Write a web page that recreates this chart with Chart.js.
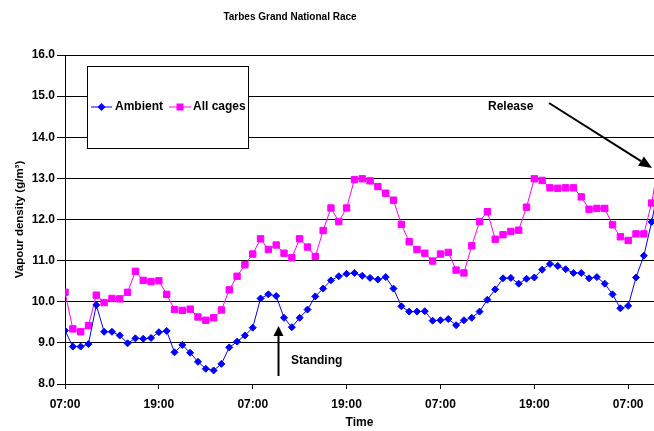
<!DOCTYPE html>
<html>
<head>
<meta charset="utf-8">
<script src="https://cdn.jsdelivr.net/npm/chart.js@4.4.1/dist/chart.umd.min.js"></script>
<style>
  html, body { margin: 0; padding: 0; background: #fff; }
  canvas { display: block; }
</style>
</head>
<body>
<canvas id="c" width="654" height="431"></canvas>
<script>
// Hourly vapour density readings (g/m3), starting 07:00
const ambient = [
  9.30, 8.91, 8.91, 8.97, 9.92, 9.27, 9.27, 9.18, 8.99, 9.11,
  9.10, 9.12, 9.26, 9.29, 8.77, 8.95, 8.76, 8.54, 8.37, 8.33,
  8.49, 8.89, 9.03, 9.18, 9.37, 10.08, 10.18, 10.14, 9.61, 9.38,
  9.61, 9.81, 10.13, 10.32, 10.52, 10.62, 10.68, 10.70, 10.63, 10.58,
  10.54, 10.60, 10.32, 9.89, 9.76, 9.76, 9.77, 9.54, 9.55, 9.58,
  9.43, 9.55, 9.61, 9.76, 10.05, 10.30, 10.57, 10.58, 10.44, 10.56,
  10.59, 10.78, 10.92, 10.87, 10.79, 10.70, 10.70, 10.57, 10.60, 10.44,
  10.18, 9.84, 9.90, 10.59, 11.12, 11.94, 12.90
];
const allCages = [
  10.23, 9.34, 9.27, 9.42, 10.16, 9.98, 10.08, 10.07, 10.23, 10.74,
  10.52, 10.49, 10.51, 10.18, 9.81, 9.79, 9.82, 9.63, 9.55, 9.61,
  9.80, 10.29, 10.62, 10.90, 11.16, 11.53, 11.27, 11.38, 11.18, 11.07,
  11.53, 11.33, 11.10, 11.73, 12.28, 11.95, 12.28, 12.97, 12.99, 12.94,
  12.80, 12.64, 12.47, 11.88, 11.46, 11.27, 11.18, 10.99, 11.16, 11.20,
  10.77, 10.70, 11.36, 11.95, 12.19, 11.52, 11.63, 11.71, 11.74, 12.30,
  12.99, 12.95, 12.77, 12.76, 12.77, 12.77, 12.55, 12.25, 12.27, 12.27,
  11.87, 11.58, 11.49, 11.65, 11.65, 12.40, 13.50
];
// Hours elapsed since the first reading
const hours = ambient.map((_, i) => i);
// Axis ticks every 12 hours
const tickHours = [0, 12, 24, 36, 48, 60, 72];
const tickLabels = ['07:00', '19:00', '07:00', '19:00', '07:00', '19:00', '07:00'];
const seriesNames = ['Ambient', 'All cages'];

const FONT = "'Liberation Sans', Arial, sans-serif";
const BLUE = '#0000ff';
const MAGENTA = '#ff00ff';

function drawArrow(ctx, x1, y1, x2, y2, headLen, headHalf) {
  const dx = x2 - x1, dy = y2 - y1;
  const len = Math.hypot(dx, dy);
  const ux = dx / len, uy = dy / len;
  const bx = x2 - ux * headLen, by = y2 - uy * headLen;
  ctx.beginPath();
  ctx.moveTo(x1, y1);
  ctx.lineTo(bx, by);
  ctx.stroke();
  ctx.beginPath();
  ctx.moveTo(x2, y2);
  ctx.lineTo(bx - uy * headHalf, by + ux * headHalf);
  ctx.lineTo(bx + uy * headHalf, by - ux * headHalf);
  ctx.closePath();
  ctx.fill();
}

const decorations = {
  id: 'decorations',
  afterDraw(chart) {
    const ctx = chart.ctx;
    const area = chart.chartArea;
    ctx.save();
    ctx.fillStyle = '#000';
    ctx.strokeStyle = '#000';

    // Title
    ctx.font = 'bold 10px ' + FONT;
    ctx.textAlign = 'center';
    ctx.textBaseline = 'middle';
    ctx.fillText('Tarbes Grand National Race', 290, 17);

    // Axis titles
    ctx.font = 'bold 12px ' + FONT;
    ctx.fillText('Time', (area.left + area.right) / 2, 423);
    ctx.save();
    ctx.translate(20, (area.top + area.bottom) / 2);
    ctx.rotate(-Math.PI / 2);
    ctx.font = 'bold 11.5px ' + FONT;
    ctx.fillText('Vapour density (g/m\u00B3)', 0, 0);
    ctx.restore();

    // Legend box
    ctx.fillStyle = '#fff';
    ctx.fillRect(87.5, 66.5, 161, 82);
    ctx.lineWidth = 1;
    ctx.strokeRect(87.5, 66.5, 161, 82);
    const ly = 107;
    ctx.lineWidth = 1;
    ctx.strokeStyle = BLUE;
    ctx.beginPath(); ctx.moveTo(91, ly); ctx.lineTo(112, ly); ctx.stroke();
    ctx.fillStyle = BLUE;
    ctx.beginPath();
    ctx.moveTo(101.5, ly - 4); ctx.lineTo(105.5, ly); ctx.lineTo(101.5, ly + 4); ctx.lineTo(97.5, ly);
    ctx.closePath(); ctx.fill();
    ctx.strokeStyle = MAGENTA;
    ctx.beginPath(); ctx.moveTo(169, ly); ctx.lineTo(191, ly); ctx.stroke();
    ctx.fillStyle = MAGENTA;
    ctx.fillRect(176.5, ly - 3.5, 7, 7);
    ctx.fillStyle = '#000';
    ctx.font = 'bold 12px ' + FONT;
    ctx.textAlign = 'left';
    ctx.fillText(seriesNames[0], 115, ly);
    ctx.fillText(seriesNames[1], 193, ly);

    // Annotations
    ctx.lineWidth = 2;
    ctx.strokeStyle = '#000';
    ctx.fillStyle = '#000';
    drawArrow(ctx, 278.5, 376, 278.5, 326, 10, 5);
    drawArrow(ctx, 549, 103, 652, 168, 13, 5.5);
    ctx.fillText('Standing', 291, 361);
    ctx.fillText('Release', 488, 107);
    ctx.restore();
  }
};

new Chart(document.getElementById('c'), {
  type: 'line',
  data: {
    datasets: [
      {
        label: seriesNames[0],
        data: hours.map((h, i) => ({ x: h, y: ambient[i] })),
        borderColor: BLUE,
        backgroundColor: BLUE,
        pointBackgroundColor: BLUE,
        pointBorderColor: BLUE,
        borderWidth: 1,
        pointBorderWidth: 1,
        pointStyle: 'rectRot',
        pointRadius: 3.5,
        tension: 0
      },
      {
        label: seriesNames[1],
        data: hours.map((h, i) => ({ x: h, y: allCages[i] })),
        borderColor: MAGENTA,
        backgroundColor: MAGENTA,
        pointBackgroundColor: MAGENTA,
        pointBorderColor: MAGENTA,
        borderWidth: 1,
        pointBorderWidth: 1,
        pointStyle: 'rect',
        pointRadius: 4.5,
        tension: 0
      }
    ]
  },
  options: {
    responsive: false,
    animation: false,
    devicePixelRatio: 1,
    layout: { autoPadding: false, padding: { top: 55, right: 0, left: 0, bottom: 0 } },
    plugins: {
      legend: { display: false },
      title: { display: false },
      tooltip: { enabled: false }
    },
    scales: {
      x: {
        type: 'linear',
        min: 0,
        max: 75.3,
        afterBuildTicks: (scale) => { scale.ticks = tickHours.map(v => ({ value: v })); },
        afterFit: (scale) => {
          scale.height = 47;
          scale.paddingLeft = 0;
          scale.paddingRight = 0;
        },
        ticks: {
          autoSkip: false,
          maxRotation: 0,
          padding: 8,
          color: '#000',
          font: { family: FONT, size: 12, weight: 'bold' },
          callback: (v) => tickLabels[tickHours.indexOf(v)]
        },
        grid: { drawOnChartArea: false, drawTicks: true, tickLength: 5, color: '#000', lineWidth: 1 },
        border: { color: '#000', width: 1 }
      },
      y: {
        min: 8,
        max: 16,
        afterFit: (scale) => { scale.width = 65; },
        ticks: {
          stepSize: 1,
          padding: 2,
          color: '#000',
          font: { family: FONT, size: 12, weight: 'bold' },
          callback: (v) => v.toFixed(1)
        },
        grid: { color: '#000', lineWidth: 1, tickLength: 8 },
        border: { color: '#000', width: 1 }
      }
    }
  },
  plugins: [decorations]
});
</script>
</body>
</html>
